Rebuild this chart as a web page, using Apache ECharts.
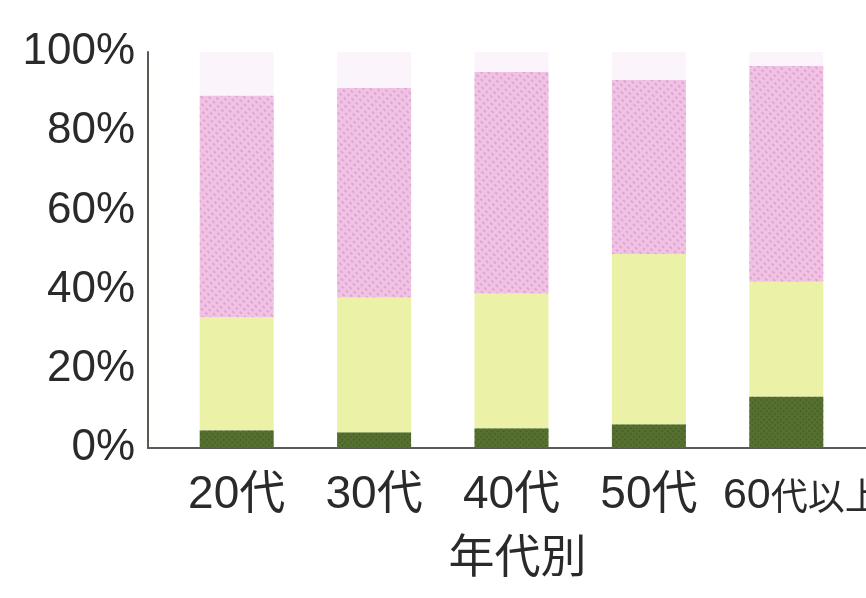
<!DOCTYPE html>
<html>
<head>
<meta charset="utf-8">
<script src="https://cdn.jsdelivr.net/npm/echarts@6/dist/echarts.min.js"></script>
<style>
html,body{margin:0;padding:0;background:#ffffff;}
#chart{width:866px;height:598px;}
</style>
</head>
<body>
<div id="chart"></div>
<script>
// Categories (age groups)
var categories = ['20代', '30代', '40代', '50代', '60代以上'];
// Stacked shares (%), bottom to top
var darkGreen = [4.5, 4, 5, 6, 13];
var yellowGreen = [28.5, 34, 34, 43, 29];
var pink = [56, 53, 56, 44, 54.5];
var pale = [11, 9, 5, 7, 3.5];
// Y tick settings
var yMin = 0, yMax = 100, yStep = 20;
var xAxisTitle = '年代別';

var FONT = '"Liberation Sans", "Noto Sans CJK JP", sans-serif';
var chart = echarts.init(document.getElementById('chart'), null, {renderer: 'canvas'});

function barSeries(name, data, color, extra) {
  var s = {
    name: name, type: 'bar', stack: 'total',
    xAxisIndex: 0, yAxisIndex: 0,
    barWidth: 74, data: data,
    itemStyle: {color: color},
    emphasis: {disabled: true}
  };
  if (extra) { for (var k in extra) s.itemStyle[k] = extra[k]; }
  return s;
}

chart.setOption({
  animation: false,
  backgroundColor: '#ffffff',
  grid: [
    {left: 168, right: 11, top: 52, bottom: 150, containLabel: false, outerBoundsMode: 'none'},
    {left: 148, right: 0, top: 52, bottom: 150, containLabel: false, outerBoundsMode: 'none'}
  ],
  xAxis: [
    {
      type: 'category', gridIndex: 0, data: categories,
      axisLine: {show: false}, axisTick: {show: false},
      axisLabel: {
        interval: 0, hideOverlap: false,
        fontFamily: FONT, fontSize: 46, color: '#2a2a2a', margin: 24,
        formatter: function (v) {
          if (v.length > 3) return '{a|' + v.slice(0, 2) + '}{b|' + v.slice(2) + '}';
          return v;
        },
        rich: {
          a: {fontFamily: FONT, fontSize: 43, lineHeight: 46, verticalAlign: 'bottom', color: '#2a2a2a', padding: [0, 0, 0, 32]},
          b: {fontFamily: FONT, fontSize: 37, lineHeight: 46, verticalAlign: 'bottom', color: '#2a2a2a'}
        }
      },
      name: xAxisTitle, nameLocation: 'middle', nameGap: 88,
      nameTextStyle: {fontFamily: FONT, fontSize: 46, color: '#2a2a2a', padding: [0, 0, 0, 12]}
    },
    {
      type: 'value', gridIndex: 1, min: 0, max: 1,
      axisLine: {show: true, lineStyle: {color: '#5a5a5a', width: 2}},
      axisTick: {show: false}, axisLabel: {show: false}, splitLine: {show: false}
    }
  ],
  yAxis: [
    {type: 'value', gridIndex: 0, min: yMin, max: yMax, interval: yStep, show: false, splitLine: {show: false}},
    {
      type: 'value', gridIndex: 1, min: yMin, max: yMax, interval: yStep,
      axisLine: {show: true, lineStyle: {color: '#5a5a50', width: 2}},
      axisTick: {show: false}, splitLine: {show: false},
      axisLabel: {fontFamily: FONT, fontSize: 44, color: '#2a2a2a', margin: 13, formatter: '{value}%'}
    }
  ],
  series: [
    barSeries('darkGreen', darkGreen, '#55702f', {
      decal: {symbol: 'rect', symbolSize: 1, dashArrayX: [2, 2], dashArrayY: [2, 2], rotation: 0.785, color: 'rgba(60,80,30,0.45)'}
    }),
    barSeries('yellowGreen', yellowGreen, '#ebf2a8'),
    barSeries('pink', pink, '#f0c2e4', {
      decal: {symbol: 'rect', symbolSize: 1, dashArrayX: [3, 3], dashArrayY: [2, 3], rotation: 0.785, color: 'rgba(215,140,195,0.55)'}
    }),
    barSeries('pale', pale, '#fbf5fb')
  ]
});
</script>
</body>
</html>
